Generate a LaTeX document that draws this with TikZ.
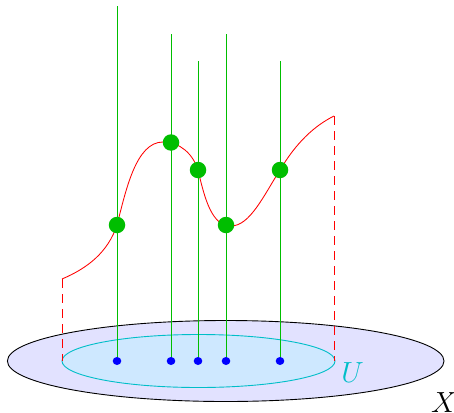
\documentclass[tikz,border=0pt]{standalone}
\usetikzlibrary{shapes.geometric}
\definecolor{fibgreen}{RGB}{0,190,0}
\definecolor{outerfill}{RGB}{226,226,255}
\definecolor{innerfill}{RGB}{206,232,255}
\definecolor{ucyan}{RGB}{0,190,200}
\tikzset{
  fiber/.style={draw=fibgreen, line width=0.9pt},
  gdot/.style={circle, fill=fibgreen, inner sep=0pt, minimum size=16.5pt},
  bdot/.style={ellipse, fill=blue, inner sep=0pt, minimum width=8.6pt, minimum height=8pt},
  sect/.style={draw=red, line width=0.85pt},
  sectdash/.style={draw=red, line width=0.85pt, dash pattern=on 9pt off 6pt},
  biglabel/.style={font=\Huge, scale=1.17, inner sep=0pt}
}
\begin{document}
\begin{tikzpicture}[x=1pt, y=-1pt]
\useasboundingbox (0,0) rectangle (454,412);
% base space X and open set U
\draw[line width=0.9pt, fill=outerfill] (225.7,361) ellipse [x radius=218.3, y radius=40.5];
\draw[draw=ucyan, line width=0.9pt, fill=innerfill] (198.5,361) ellipse [x radius=136.5, y radius=26.5];
% base points
\coordinate (b1) at (117,361);
\coordinate (b2) at (171,361);
\coordinate (b3) at (198,361);
\coordinate (b4) at (226,361);
\coordinate (b5) at (280,361);
% fiber tops
\coordinate (t1) at (117,6.5);
\coordinate (t2) at (171,34);
\coordinate (t3) at (198,61);
\coordinate (t4) at (226,34);
\coordinate (t5) at (280,61);
% section points
\coordinate (s1) at (117,225);
\coordinate (s2) at (171,142.5);
\coordinate (s3) at (198,170);
\coordinate (s4) at (226,225);
\coordinate (s5) at (280,170);
\coordinate (sa) at (62,279);
\coordinate (sb) at (334,116);
\coordinate (da) at (62,361);
\coordinate (db) at (334,361);
% fibers
\foreach \i in {1,...,5} { \draw[fiber] (b\i) -- (t\i); }
% dashed edges of section
\draw[sectdash] (sa) -- (da);
\draw[sectdash] (sb) -- (db);
% section curve
\draw[sect] (sa) .. controls (88,268) and (108,252) .. (s1)
  .. controls (126,190) and (136,142) .. (163,142)
  .. controls (180,142) and (193,154) .. (s3)
  .. controls (205,200) and (212,226) .. (231,226)
  .. controls (250,226) and (264,195) .. (s5)
  .. controls (296,143) and (314,126) .. (sb);
% dots
\foreach \i in {1,...,5} {
  \node[gdot] (g\i) at (s\i) {};
  \node[bdot] (p\i) at (b\i) {};
}
% labels
\node[biglabel, text=ucyan] (U) at (352.5,372.5) {$U$};
\node[biglabel] (X) at (444,402.5) {$X$};
\end{tikzpicture}
\end{document}
